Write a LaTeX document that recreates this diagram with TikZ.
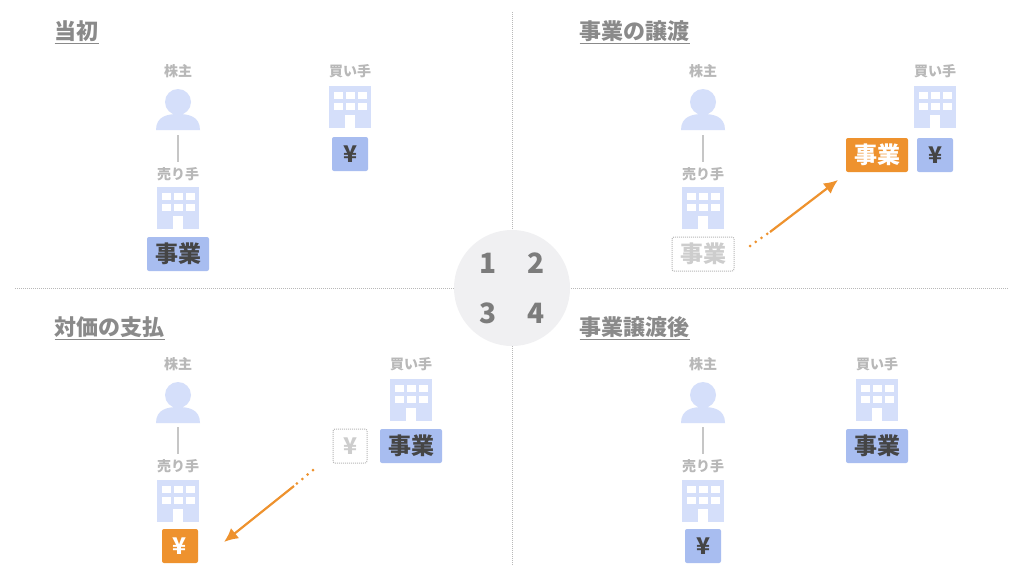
\documentclass[tikz,border=0pt]{standalone}
\usepackage{fontspec}
\usetikzlibrary{arrows.meta}
\setmainfont{Noto Sans CJK JP}
\definecolor{icon}{HTML}{D5DFFA}
\definecolor{bbox}{HTML}{A8BDF0}
\definecolor{org}{HTML}{EE922E}
\definecolor{lbl}{HTML}{B8B8B8}
\definecolor{ttl}{HTML}{8A8A8A}
\definecolor{dk}{HTML}{454545}
\definecolor{circ}{HTML}{F0F0F2}
\tikzset{
 lab/.style={text=lbl,font=\bfseries\fontsize{14}{16}\selectfont},
 ttlnode/.style={text=ttl,anchor=west,font=\bfseries\fontsize{22}{24}\selectfont},
 bluebox/.style={fill=bbox,rounded corners=2pt,text=dk,font=\bfseries\fontsize{23}{25}\selectfont,minimum height=34pt,inner sep=0pt},
 orgbox/.style={fill=org,rounded corners=2pt,text=white,font=\bfseries\fontsize{23}{25}\selectfont,minimum height=34pt,inner sep=0pt},
 ghost/.style={draw=lbl,densely dotted,line width=1pt,rounded corners=2pt,text=lbl!70,font=\bfseries\fontsize{23}{25}\selectfont,minimum height=34pt,inner sep=0pt},
 conn/.style={lbl!80,line width=2.5pt},
 dots/.style={org,line width=3pt,line cap=round,dash pattern=on 0pt off 7pt},
 arr/.style={org,line width=2.2pt,-{Latex[length=14pt,width=13pt]}},
 pics/bld/.style={code={
  \fill[icon] (-21,-21) rectangle (21,21);
  \foreach \i in {-1,0,1}{\foreach \j in {0,1}{\fill[white] (\i*12-4.5,-15+\j*11) rectangle (\i*12+4.5,-15+\j*11+7);}}
  \fill[white] (-5,8) rectangle (5,21);
 }},
 pics/person/.style={code={
  \fill[icon] (0,-10) circle (13);
  \fill[icon] (-22,18) .. controls (-22,4) and (-10,2) .. (0,2) .. controls (10,2) and (22,4) .. (22,18) -- cycle;
 }},
}
\begin{document}
\begin{tikzpicture}[x=1pt,y=-1pt]
\useasboundingbox (0,0) rectangle (1024,576);
\fill[white] (0,0) rectangle (1024,576);
\draw[lbl,densely dotted,line width=1pt] (512,12) -- (512,565);
\draw[lbl,densely dotted,line width=1pt] (15,288) -- (1008,288);
\fill[circ] (512,288) circle (58);
\foreach \t/\x/\y in {1/488/263,2/536/263,3/488/313,4/536/313}
  \node[text=ttl!90!black,font=\bfseries\fontsize{28}{30}\selectfont] (n\t) at (\x,\y) {\t};
\node[ttlnode] (t1) at (51,32) {\underline{当初}};
\node[ttlnode] (t2) at (576,32) {\underline{事業の譲渡}};
\node[ttlnode] (t3) at (51,328) {\underline{対価の支払}};
\node[ttlnode] (t4) at (576,328) {\underline{事業譲渡後}};
% Q1
\node[lab] (sh1) at (178,71) {株主};
\pic at (178,112) {person};
\node[lab] (se1) at (178,174) {売り手};
\pic at (178,208) {bld};
\coordinate (a1) at (178,135); \coordinate (b1) at (178,162);
\draw[conn] (a1) -- (b1);
\node[bluebox,minimum width=62pt] (j1) at (178,254) {事業};
\node[lab] (bu1) at (350,71) {買い手};
\pic at (350,107) {bld};
\node[bluebox,minimum width=36pt] (y1) at (350,154) {¥};
% Q2
\node[lab] (sh2) at (703,71) {株主};
\pic at (703,112) {person};
\node[lab] (se2) at (703,174) {売り手};
\pic at (703,208) {bld};
\coordinate (a2) at (703,135); \coordinate (b2) at (703,162);
\draw[conn] (a2) -- (b2);
\node[ghost,minimum width=62pt] (j2) at (703,254) {事業};
\node[lab] (bu2) at (935,71) {買い手};
\pic at (935,107) {bld};
\node[bluebox,minimum width=36pt] (y2) at (935,155) {¥};
\node[orgbox,minimum width=62pt] (j2b) at (877,155) {事業};
\coordinate (p2) at (750,246); \coordinate (q2) at (770,232); \coordinate (r2) at (838,180);
\draw[dots] (p2) -- (q2);
\draw[arr] (q2) -- (r2);
% Q3
\node[lab] (sh3) at (178,364) {株主};
\pic at (178,405) {person};
\node[lab] (se3) at (178,466) {売り手};
\pic at (178,501) {bld};
\coordinate (a3) at (178,427); \coordinate (b3) at (178,454);
\draw[conn] (a3) -- (b3);
\node[orgbox,minimum width=36pt] (y3) at (180,546) {¥};
\node[lab] (bu3) at (411,364) {買い手};
\pic at (411,400) {bld};
\node[bluebox,minimum width=62pt] (j3) at (411,446) {事業};
\node[ghost,minimum width=34pt] (y3b) at (350,446) {¥};
\coordinate (p3) at (313,470); \coordinate (q3) at (294,486); \coordinate (r3) at (224,542);
\draw[dots] (p3) -- (q3);
\draw[arr] (q3) -- (r3);
% Q4
\node[lab] (sh4) at (703,364) {株主};
\pic at (703,405) {person};
\node[lab] (se4) at (703,466) {売り手};
\pic at (703,501) {bld};
\coordinate (a4) at (703,427); \coordinate (b4) at (703,454);
\draw[conn] (a4) -- (b4);
\node[bluebox,minimum width=36pt] (y4) at (703,546) {¥};
\node[lab] (bu4) at (877,364) {買い手};
\pic at (877,400) {bld};
\node[bluebox,minimum width=62pt] (j4) at (877,446) {事業};
\end{tikzpicture}
\end{document}
